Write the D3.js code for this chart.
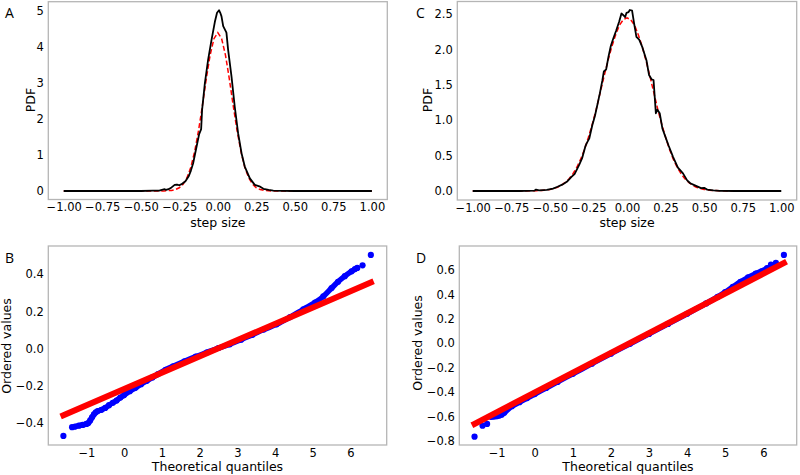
<!DOCTYPE html>
<html><head><meta charset="utf-8">
<script src="https://cdn.jsdelivr.net/npm/d3@7"></script>
<style>body{margin:0;background:#fff}svg{display:block}</style>
</head><body><svg id="c" width="800" height="475"></svg>
<script>
// ---------- data ----------
const pdfTicksX=[-1,-0.75,-0.5,-0.25,0,0.25,0.5,0.75,1];
const pdfTicksYA=[0,1,2,3,4,5];
const pdfTicksYC=[0,0.5,1,1.5,2,2.5];
const qqTicksX=[-1,0,1,2,3,4,5,6];
const qqTicksYB=[-0.4,-0.2,0,0.2,0.4];
const qqTicksYD=[-0.8,-0.6,-0.4,-0.2,0,0.2,0.4,0.6];

// Panel A: empirical PDF (black) and fit (red dashed)
const stepA=[-1.0,-0.5,-0.42,-0.38,-0.345,-0.335,-0.32,-0.30,-0.28,-0.265,-0.25,-0.235,-0.21,-0.19,-0.175,-0.16,-0.138,-0.121,-0.108,-0.102,-0.084,-0.063,-0.041,-0.019,-0.005,0.008,0.016,0.024,0.035,0.056,0.067,0.089,0.11,0.132,0.154,0.175,0.208,0.24,0.255,0.27,0.296,0.33,0.36,0.42,0.5,1.0];
const pdfA=[0,0,0.01,0.01,0.05,0.03,0.05,0.10,0.17,0.18,0.16,0.19,0.27,0.40,0.56,0.77,1.23,1.58,1.72,2.25,2.99,3.64,4.19,4.70,4.95,5.02,4.95,4.85,4.58,4.40,3.92,3.18,2.34,1.60,1.05,0.68,0.35,0.17,0.15,0.13,0.06,0.03,0.01,0.005,0,0];
const fitStepA=[-1,-0.4,-0.35,-0.3,-0.275,-0.25,-0.225,-0.2,-0.175,-0.15,-0.125,-0.1,-0.075,-0.05,-0.025,0,0.025,0.05,0.075,0.1,0.125,0.15,0.175,0.2,0.225,0.25,0.275,0.3,0.35,0.4,1];
const fitA=[0,0,0.002,0.017,0.04,0.09,0.19,0.37,0.66,1.10,1.68,2.37,3.11,3.77,4.23,4.40,4.23,3.77,3.11,2.37,1.68,1.10,0.66,0.37,0.19,0.09,0.04,0.017,0.002,0,0];

// Panel C
const stepC=[-1.0,-0.7,-0.6,-0.59,-0.57,-0.52,-0.48,-0.45,-0.42,-0.39,-0.36,-0.34,-0.31,-0.29,-0.27,-0.26,-0.245,-0.225,-0.208,-0.19,-0.176,-0.16,-0.15,-0.135,-0.12,-0.105,-0.09,-0.07,-0.05,-0.036,-0.025,-0.012,-0.003,0.01,0.018,0.033,0.046,0.061,0.079,0.10,0.126,0.143,0.159,0.172,0.18,0.187,0.197,0.212,0.23,0.245,0.27,0.299,0.33,0.363,0.39,0.41,0.44,0.48,0.5,0.52,0.56,0.6,0.7,1.0];
const pdfC=[0,0,0.005,0.02,0.008,0.015,0.035,0.06,0.09,0.13,0.20,0.24,0.37,0.47,0.63,0.68,0.74,0.93,1.06,1.24,1.38,1.56,1.69,1.72,1.90,2.05,2.15,2.27,2.40,2.51,2.49,2.46,2.52,2.53,2.56,2.55,2.37,2.18,2.14,2.03,1.85,1.64,1.58,1.57,1.32,1.10,1.15,1.10,0.88,0.79,0.64,0.48,0.33,0.25,0.15,0.11,0.08,0.04,0.045,0.02,0.01,0.003,0,0];
const fitStepC=[-1,-0.7,-0.6,-0.55,-0.5,-0.475,-0.45,-0.425,-0.4,-0.375,-0.35,-0.325,-0.3,-0.275,-0.25,-0.225,-0.2,-0.175,-0.15,-0.125,-0.1,-0.075,-0.05,-0.025,0,0.025,0.05,0.075,0.1,0.125,0.15,0.175,0.2,0.225,0.25,0.275,0.3,0.325,0.35,0.375,0.4,0.425,0.45,0.475,0.5,0.55,0.6,0.7,1];
const fitC=[0,0,0.003,0.008,0.022,0.035,0.054,0.082,0.121,0.174,0.245,0.336,0.45,0.591,0.76,0.946,1.15,1.38,1.61,1.83,2.03,2.20,2.34,2.42,2.45,2.42,2.34,2.20,2.03,1.83,1.61,1.38,1.15,0.946,0.76,0.591,0.45,0.336,0.245,0.174,0.121,0.082,0.054,0.035,0.022,0.008,0.003,0,0];

// Panel B: QQ plot
const qqBx=[-1.3,-1.2,-1.1,-1.0,-0.95,-0.9,-0.85,-0.8,-0.75,-0.7,-0.6,-0.5,-0.4,-0.3,-0.2,-0.1,0,0.15,0.3,0.45,0.6,0.75,0.9,1.1,1.3,1.6,1.9,2.2,2.5,2.8,3.1,3.4,3.7,4.04,4.4,4.75,5.06,5.28,5.5,5.67,5.85,6.03,6.12,6.18];
const qqBy=[-0.418,-0.413,-0.409,-0.404,-0.399,-0.385,-0.368,-0.352,-0.341,-0.335,-0.328,-0.318,-0.303,-0.29,-0.278,-0.262,-0.249,-0.228,-0.21,-0.19,-0.172,-0.154,-0.136,-0.113,-0.094,-0.067,-0.042,-0.019,0.004,0.024,0.049,0.075,0.103,0.131,0.17,0.212,0.248,0.281,0.326,0.36,0.39,0.416,0.428,0.434];
const qqBoutX=[-1.61,-1.38,6.32,6.54];
const qqBoutY=[-0.468,-0.421,0.448,0.504];
const fitBx=[-1.61,6.54];
const fitBy=[-0.357,0.356];

// Panel D: QQ plot
const qqDx=[-1.15,-1.08,-1.0,-0.93,-0.87,-0.8,-0.6,-0.4,-0.2,0,0.3,0.6,1.0,1.5,2.0,2.5,3.0,3.5,4.0,4.5,4.8,5.0,5.2,5.4,5.6,5.8,5.95,6.1];
const qqDy=[-0.602,-0.600,-0.597,-0.592,-0.585,-0.568,-0.515,-0.482,-0.449,-0.416,-0.366,-0.316,-0.25,-0.167,-0.085,-0.004,0.077,0.159,0.242,0.327,0.38,0.42,0.462,0.503,0.54,0.57,0.59,0.615];
const qqDoutX=[-1.58,-1.37,-1.25,6.2,6.33,6.54];
const qqDoutY=[-0.765,-0.675,-0.66,0.644,0.66,0.724];
const fitDx=[-1.58,6.54];
const fitDy=[-0.66,0.657];

// ---------- drawing ----------
const svg=d3.select("#c");
const FONT="DejaVu Sans, sans-serif";

function makePanel(p){
  const x=d3.scaleLinear().domain(p.xd).range([p.l,p.r]);
  const y=d3.scaleLinear().domain(p.yd).range([p.b,p.t]);
  const g=svg.append("g");
  const ax=g.append("g").attr("transform",`translate(0,${p.b})`)
    .call(d3.axisBottom(x).tickValues(p.xt).tickFormat(d3.format(p.xf)).tickSize(0).tickPadding(3.5));
  const ay=g.append("g").attr("transform",`translate(${p.l},0)`)
    .call(d3.axisLeft(y).tickValues(p.yt).tickFormat(d3.format(p.yf)).tickSize(0).tickPadding(4.5));
  [ax,ay].forEach(a=>{a.select(".domain").remove();a.attr("font-family",FONT).attr("font-size",11.5).attr("color","#000");});
  g.append("rect").attr("x",p.l).attr("y",p.t).attr("width",p.r-p.l).attr("height",p.b-p.t)
    .attr("fill","none").attr("stroke","#b5b5b5").attr("stroke-width",1.3);
  g.append("text").attr("x",(p.l+p.r)/2).attr("y",p.xlY).attr("text-anchor","middle")
    .attr("font-family",FONT).attr("font-size",12.5).attr("fill","#000").text(p.xl);
  g.append("text").attr("transform",`translate(${p.ylX},${p.ylY}) rotate(-90)`).attr("text-anchor","middle")
    .attr("font-family",FONT).attr("font-size",12.5).attr("fill","#000").text(p.yl);
  g.append("text").attr("x",p.lx).attr("y",p.ly).attr("font-family","Open Sans, sans-serif")
    .attr("font-size",14).attr("fill","#000").text(p.letter);
  return {g,x,y};
}

function drawPdf(P,xs,ys,fxs,fys){
  const line=d3.line().x(d=>P.x(d[0])).y(d=>P.y(d[1]));
  P.g.append("path").datum(d3.zip(fxs,fys)).attr("d",line).attr("fill","none")
    .attr("stroke","#ff0000").attr("stroke-width",1.5).attr("stroke-dasharray","5,2.5");
  P.g.append("path").datum(d3.zip(xs,ys)).attr("d",line).attr("fill","none")
    .attr("stroke","#000").attr("stroke-width",1.8).attr("stroke-linejoin","round");
}
function drawQQ(P,xs,ys,oxs,oys,lx,ly){
  const line=d3.line().x(d=>P.x(d[0])).y(d=>P.y(d[1])).curve(d3.curveMonotoneX);
  const dense=d3.zip(xs,ys);
  P.g.append("path").datum(dense).attr("d",line).attr("fill","none")
    .attr("stroke","#0000ff").attr("stroke-width",5.5).attr("stroke-linecap","round");
  P.g.selectAll(null).data(dense.concat(d3.zip(oxs,oys))).join("circle")
    .attr("cx",d=>P.x(d[0])).attr("cy",d=>P.y(d[1])).attr("r",3.1).attr("fill","#0000ff");
  P.g.append("path").datum(d3.zip(lx,ly)).attr("d",d3.line().x(d=>P.x(d[0])).y(d=>P.y(d[1])))
    .attr("stroke","#ff0000").attr("stroke-width",6).attr("stroke-linecap","square");
}

const A=makePanel({l:48.3,r:387.3,t:1.7,b:199.5,xd:[-1.1,1.1],yd:[-0.236,5.258],xt:pdfTicksX,xf:".2f",yt:pdfTicksYA,yf:"d",
  xl:"step size",xlY:227,yl:"PDF",ylX:35,ylY:100,letter:"A",lx:5,ly:18});
drawPdf(A,stepA,pdfA,fitStepA,fitA);
const C=makePanel({l:457.3,r:796.7,t:1.5,b:200,xd:[-1.1,1.1],yd:[-0.127,2.68],xt:pdfTicksX,xf:".2f",yt:pdfTicksYC,yf:".1f",
  xl:"step size",xlY:227,yl:"PDF",ylX:432,ylY:100,letter:"C",lx:416,ly:18});
drawPdf(C,stepC,pdfC,fitStepC,fitC);
const B=makePanel({l:48.3,r:386.7,t:246,b:445,xd:[-2.01,6.96],yd:[-0.517,0.552],xt:qqTicksX,xf:"d",yt:qqTicksYB,yf:".1f",
  xl:"Theoretical quantiles",xlY:471,yl:"Ordered values",ylX:11,ylY:346,letter:"B",lx:5,ly:263});
drawQQ(B,qqBx,qqBy,qqBoutX,qqBoutY,fitBx,fitBy);
const D=makePanel({l:459.3,r:796.7,t:246,b:445,xd:[-1.98,6.876],yd:[-0.833,0.797],xt:qqTicksX,xf:"d",yt:qqTicksYD,yf:".1f",
  xl:"Theoretical quantiles",xlY:471,yl:"Ordered values",ylX:422,ylY:343,letter:"D",lx:416,ly:263});
drawQQ(D,qqDx,qqDy,qqDoutX,qqDoutY,fitDx,fitDy);
</script></body></html>
